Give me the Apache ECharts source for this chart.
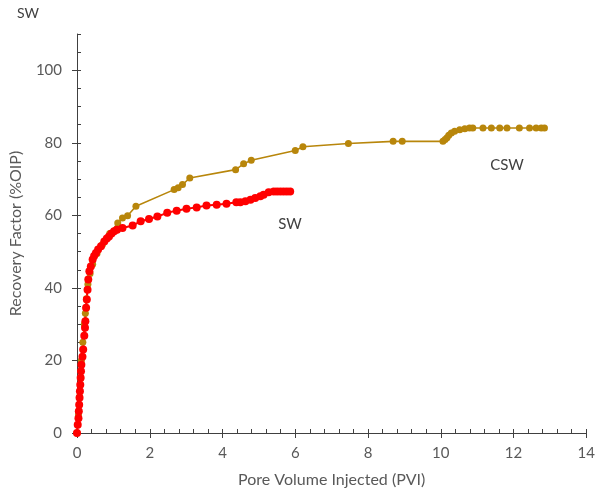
<!DOCTYPE html>
<html>
<head>
<meta charset="utf-8">
<script src="https://cdn.jsdelivr.net/npm/echarts@6/dist/echarts.min.js"></script>
<style>
  html, body { margin: 0; padding: 0; background: #fff; }
  #chart { width: 598px; height: 497px; }
</style>
</head>
<body>
<div id="chart"></div>
<script>
// SW curve (PVI, %OIP)
const swPVI = [0, 0.02, 0.04, 0.05, 0.06, 0.07, 0.08, 0.09, 0.10, 0.11, 0.12, 0.15, 0.17, 0.2, 0.22, 0.23, 0.25, 0.27, 0.29, 0.31,
  0.34, 0.38, 0.43, 0.47, 0.52, 0.58, 0.66, 0.75, 0.82, 0.88, 0.95, 1.02, 1.1, 1.25, 1.53, 1.75, 1.98, 2.21, 2.48, 2.74,
  3.01, 3.29, 3.56, 3.84, 4.11, 4.38, 4.49, 4.63, 4.77, 4.9, 5.04, 5.13, 5.27, 5.41, 5.5, 5.59, 5.68, 5.77, 5.86]
const swRF = [0, 2.3, 4.1, 6.0, 7.8, 9.7, 11.5, 13.3, 15.2, 17, 18.8, 21, 23, 26.8, 29, 30.8, 34.5, 36.8, 39.5, 42.3,
  44.6, 45.9, 47.8, 48.8, 49.6, 50.6, 51.5, 52.8, 53.6, 54.2, 55, 55.6, 56, 56.5, 57.2, 58.4, 59, 59.7, 60.7, 61.3,
  61.8, 62.2, 62.7, 62.9, 63.2, 63.6, 63.6, 63.9, 64.3, 64.8, 65.3, 65.7, 66.4, 66.6, 66.6, 66.6, 66.6, 66.6, 66.6]

// CSW curve
const cswPVI = [0, 0.04, 0.07, 0.1, 0.12, 0.16, 0.2, 0.23, 0.26, 0.3, 0.36, 0.43, 0.55, 0.7, 0.9, 1.12, 1.25, 1.39, 1.62, 2.67,
  2.78, 2.9, 3.1, 4.36, 4.58, 4.79, 6.0, 6.21, 7.46, 8.69, 8.94, 10.06, 10.12, 10.17, 10.22, 10.29, 10.38, 10.52, 10.66, 10.79,
  10.88, 11.16, 11.39, 11.62, 11.82, 12.16, 12.44, 12.62, 12.76, 12.85]
const cswRF = [0, 5, 10, 15, 20, 25, 30, 33, 37, 41, 44, 46.5, 49.5, 52, 55, 57.9, 59.3, 59.9, 62.5, 67.1,
  67.6, 68.5, 70.3, 72.6, 74.2, 75.2, 77.9, 78.9, 79.8, 80.4, 80.4, 80.4, 80.9, 81.4, 82.1, 82.7, 83.2, 83.6, 83.9, 84.1,
  84.1, 84.1, 84.1, 84.1, 84.1, 84.1, 84.1, 84.1, 84.1, 84.1]

// tick labels
const xTicks = [0, 2, 4, 6, 8, 10, 12, 14]
const yTicks = [0, 20, 40, 60, 80, 100]

const font = 'Lato'
const axisColor = '#404040'
const labelColor = '#595959'

const zip = (xs, ys) => xs.map((x, i) => [x, ys[i]])

const baseX = { type: 'value', position: 'bottom', min: 0, max: 14, interval: 0.4, splitLine: { show: false } }
const baseY = { type: 'value', position: 'left', min: 0, max: 110, interval: 5, splitLine: { show: false } }

const chart = echarts.init(document.getElementById('chart'))
chart.setOption({
  animation: false,
  textStyle: { fontFamily: font },
  grid: { left: 76, right: 11, top: 34, bottom: 64, containLabel: false },
  xAxis: [
    {
      ...baseX,
      name: 'Pore Volume Injected (PVI)', nameLocation: 'middle', nameGap: 39,
      nameTextStyle: { color: labelColor, fontSize: 16, fontFamily: font },
      axisLine: { lineStyle: { color: axisColor, width: 1 } },
      axisTick: { inside: true, length: 4, lineStyle: { color: axisColor } },
      axisLabel: { customValues: xTicks, color: labelColor, fontSize: 15, margin: 13, fontFamily: font }
    },
    {
      ...baseX,
      axisLine: { show: false },
      axisTick: { inside: false, length: 5, customValues: xTicks, lineStyle: { color: axisColor } },
      axisLabel: { show: false }
    }
  ],
  yAxis: [
    {
      ...baseY,
      name: 'Recovery Factor (%OIP)', nameLocation: 'middle', nameGap: 53,
      nameTextStyle: { color: labelColor, fontSize: 16, fontFamily: font },
      axisLine: { lineStyle: { color: axisColor, width: 1 } },
      axisTick: { inside: true, length: 4, lineStyle: { color: axisColor } },
      axisLabel: { customValues: yTicks, color: labelColor, fontSize: 15, margin: 15, fontFamily: font }
    },
    {
      ...baseY,
      axisLine: { show: false },
      axisTick: { inside: false, length: 5, customValues: yTicks, lineStyle: { color: axisColor } },
      axisLabel: { show: false }
    }
  ],
  series: [
    {
      name: 'CSW', type: 'line', data: zip(cswPVI, cswRF),
      symbol: 'circle', symbolSize: 7,
      lineStyle: { color: '#B8860B', width: 1.6 },
      itemStyle: { color: '#B8860B' }
    },
    {
      name: 'SW', type: 'line', data: zip(swPVI, swRF),
      symbol: 'circle', symbolSize: 8,
      lineStyle: { color: '#FF0000', width: 2 },
      itemStyle: { color: '#FF0000' }
    }
  ],
  graphic: [
    { type: 'text', left: 17, top: 6, style: { text: 'SW', fill: '#404040', font: '14px Lato' } },
    { type: 'text', x: 290, y: 224, style: { text: 'SW', fill: '#404040', font: '15px Lato', align: 'center', verticalAlign: 'middle' } },
    { type: 'text', x: 507, y: 165, style: { text: 'CSW', fill: '#404040', font: '15px Lato', align: 'center', verticalAlign: 'middle' } }
  ]
})
</script>
</body>
</html>
